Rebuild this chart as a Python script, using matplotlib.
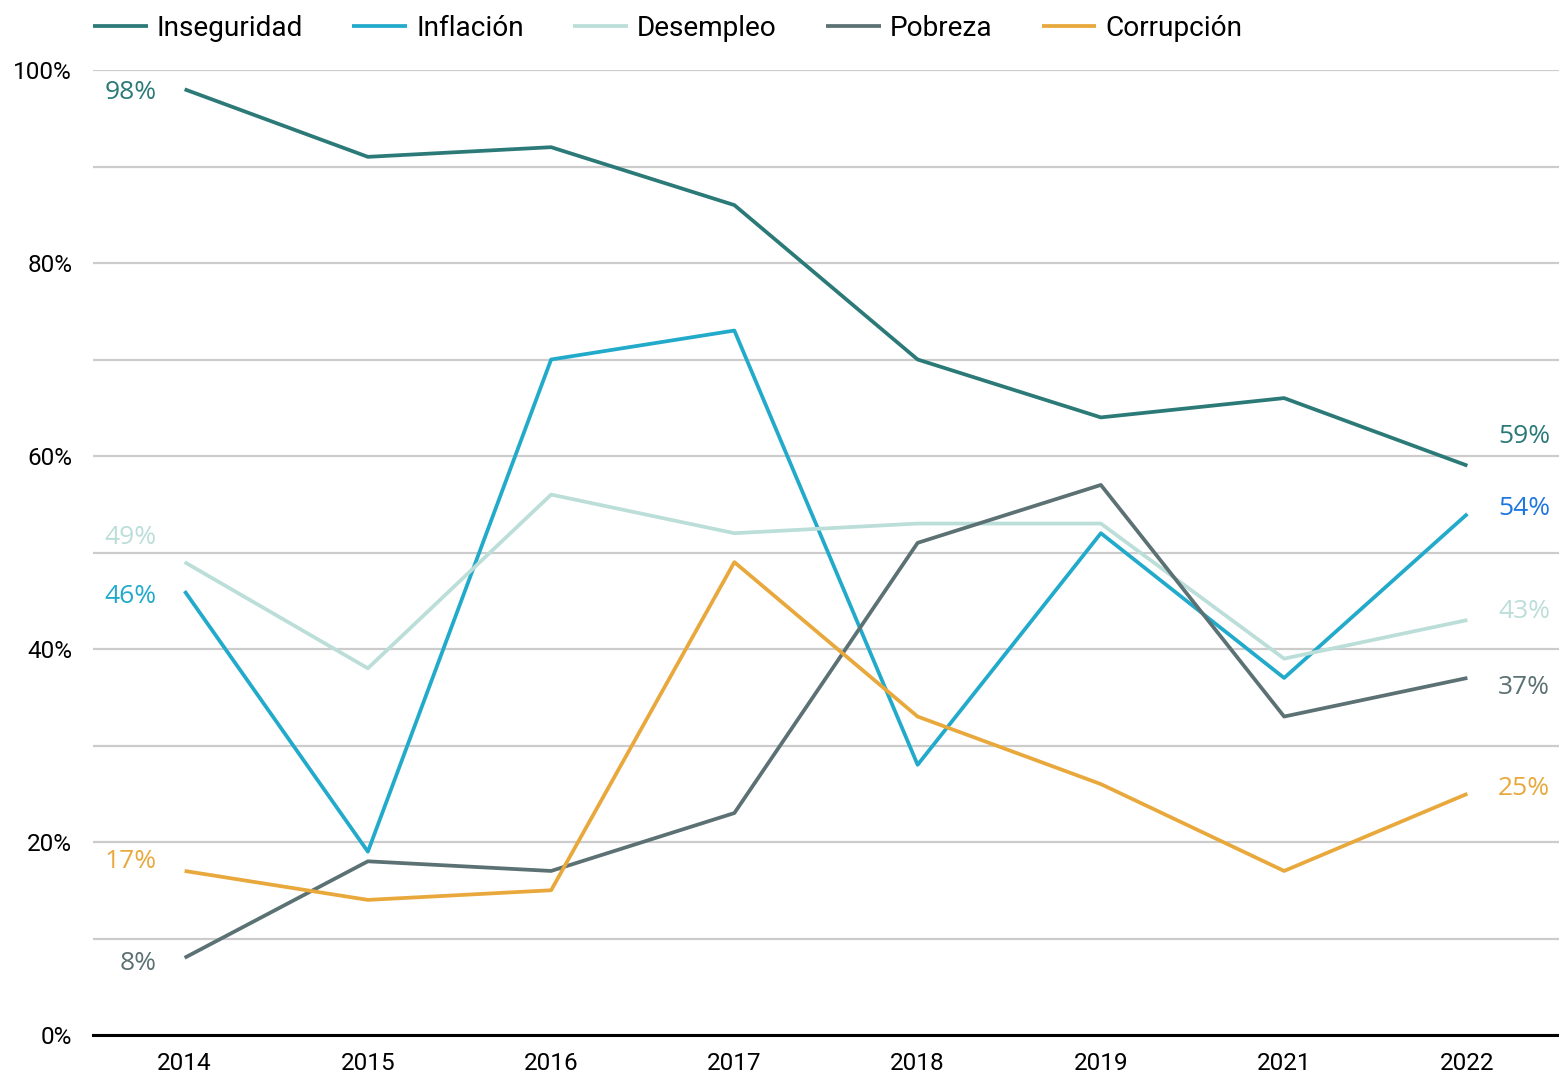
import matplotlib.pyplot as plt
import numpy as np

years = ["2014", "2015", "2016", "2017", "2018", "2019", "2021", "2022"]

inseguridad = [98, 91, 92, 86, 70, 64, 66, 59]
inflacion = [46, 19, 70, 73, 28, 52, 37, 54]
desempleo = [49, 38, 56, 52, 53, 53, 39, 43]
pobreza = [8, 18, 17, 23, 51, 57, 33, 37]
corrupcion = [17, 14, 15, 49, 33, 26, 17, 25]

series = [
    ("Inseguridad", inseguridad, "#2b7a78"),
    ("Inflación", inflacion, "#22aacb"),
    ("Desempleo", desempleo, "#bcded9"),
    ("Pobreza", pobreza, "#5b7173"),
    ("Corrupción", corrupcion, "#e8a83b"),
]

# label offsets in points (first, last)
first_off = {"Inseguridad": (-2, -2), "Inflación": (-2, -4), "Desempleo": (-2, 18),
             "Pobreza": (-2, -4), "Corrupción": (-2, 7)}
last_off = {"Inseguridad": (22, 21), "Inflación": (22, 4), "Desempleo": (22, 6),
            "Pobreza": (22, -7), "Corrupción": (22, 4)}
last_color = {"Inflación": "#1f77e0"}

plt.rcParams["font.family"] = ["Roboto", "DejaVu Sans"]

fig = plt.figure(figsize=(15.59, 10.72), dpi=100)
ax = fig.add_axes([93 / 1559, 37 / 1072, 1 - 93 / 1559, (1035 - 70) / 1072])

x = np.arange(len(years))
for name, vals, col in series:
    ax.plot(x, vals, color=col, lw=2.7, label=name, solid_capstyle="butt")
    ax.annotate(f"{vals[0]}%", (x[0], vals[0]), xytext=(-18 + first_off[name][0], first_off[name][1]),
                textcoords="offset points", ha="right", va="center", color=col,
                fontsize=19, family=["Open Sans", "DejaVu Sans"])
    ax.annotate(f"{vals[-1]}%", (x[-1], vals[-1]), xytext=last_off[name],
                textcoords="offset points", ha="left", va="center",
                color=last_color.get(name, col), fontsize=19, family=["Open Sans", "DejaVu Sans"])

ax.set_xlim(-0.5, len(years) - 0.5)
ax.set_ylim(0, 100)
ax.set_xticks(x)
ax.set_xticklabels(years)
ax.set_yticks(np.arange(0, 101, 20))
ax.set_yticklabels([f"{v}%" for v in range(0, 101, 20)])
ax.set_yticks(np.arange(0, 101, 10), minor=True)
ax.grid(axis="y", which="both", color="#cccccc", lw=1.6)
ax.set_axisbelow(True)
ax.tick_params(axis="both", which="both", length=0, labelsize=17.5)
ax.tick_params(axis="y", pad=15)
ax.tick_params(axis="x", pad=12)
for s in ["top", "right", "left"]:
    ax.spines[s].set_visible(False)
ax.spines["bottom"].set_linewidth(2.2)
ax.spines["bottom"].set_zorder(5)

fig.legend(loc="center left", bbox_to_anchor=(93 / 1559, 1 - 28 / 1072), ncol=5, frameon=False,
           fontsize=20.2, handlelength=1.95, handletextpad=0.33, columnspacing=1.75,
           borderpad=0, borderaxespad=0)

fig.savefig("out.png", dpi=100)
